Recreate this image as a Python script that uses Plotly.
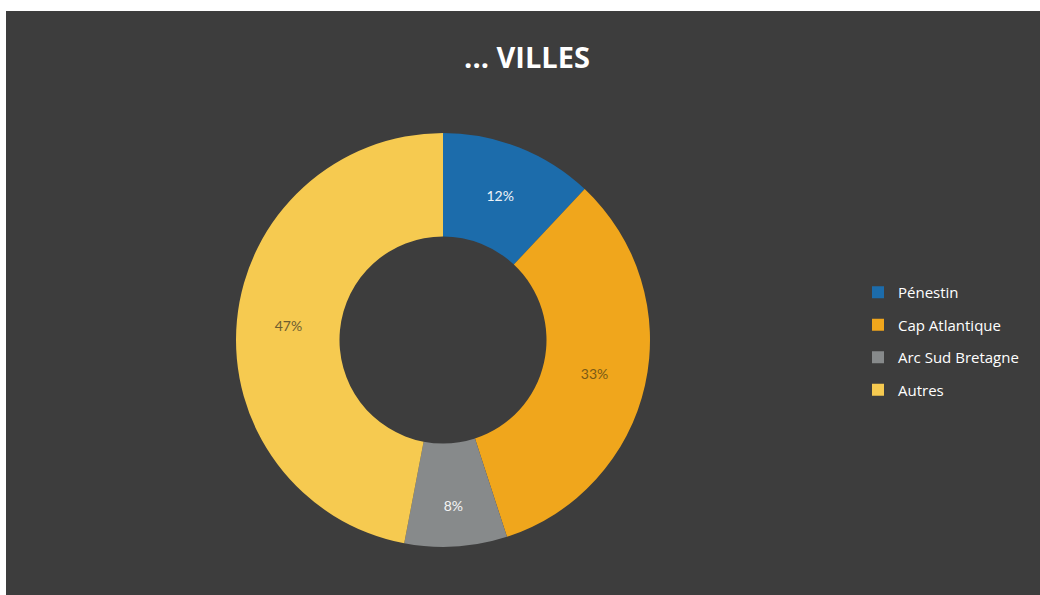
import plotly.graph_objects as go

labels = ["Pénestin", "Cap Atlantique", "Arc Sud Bretagne", "Autres"]
values = [12, 33, 8, 47]
colors = ["#1c6cab", "#f0a61c", "#878a8b", "#f6ca50"]
text_colors = ["#eef3f8", "#7a5a16", "#f4f4f4", "#6e5e30"]
title_text = "... VILLES"

W, H = 1040, 595
cx, cy, r = 443, 340, 207

fig = go.Figure()
fig.add_trace(go.Pie(
    labels=labels, values=values, hole=0.5, sort=False, direction="clockwise",
    rotation=0, marker=dict(colors=colors, line=dict(width=0)),
    textinfo="percent", textposition="inside", insidetextorientation="horizontal",
    textfont=dict(family="Lato, Open Sans, sans-serif", size=14, color=text_colors),
    showlegend=False, hoverinfo="label+percent",
    domain=dict(x=[(cx - r) / W, (cx + r) / W], y=[(H - cy - r) / H, (H - cy + r) / H]),
))

for i, (lab, col) in enumerate(zip(labels, colors)):
    fig.add_trace(go.Scatter(
        x=[None], y=[None], mode="markers", name=lab, legendgroup=f"g{i}",
        marker=dict(symbol="square", size=10, color=col),
    ))

fig.update_layout(
    width=W, height=H,
    margin=dict(l=0, r=0, t=0, b=0),
    paper_bgcolor="#ffffff",
    plot_bgcolor="rgba(0,0,0,0)",
    xaxis=dict(visible=False), yaxis=dict(visible=False),
    title=dict(text="<b>" + title_text + "</b>", x=527 / W, xanchor="center",
               y=1 - 58 / H, yanchor="middle", yref="container",
               font=dict(family="Open Sans, Lato, sans-serif", size=29, color="#ffffff")),
    legend=dict(x=858 / W, y=1 - 276 / H, xanchor="left", yanchor="top",
                bgcolor="rgba(0,0,0,0)", tracegroupgap=10, itemsizing="constant",
                itemwidth=30,
                font=dict(family="Open Sans, Lato, sans-serif", size=15, color="#ffffff")),
    shapes=[dict(type="rect", xref="paper", yref="paper", x0=6 / W, x1=1, y0=0, y1=1 - 11 / H,
                 fillcolor="#3d3d3d", line=dict(width=0), layer="below")],
)

fig.write_html("out.html")
